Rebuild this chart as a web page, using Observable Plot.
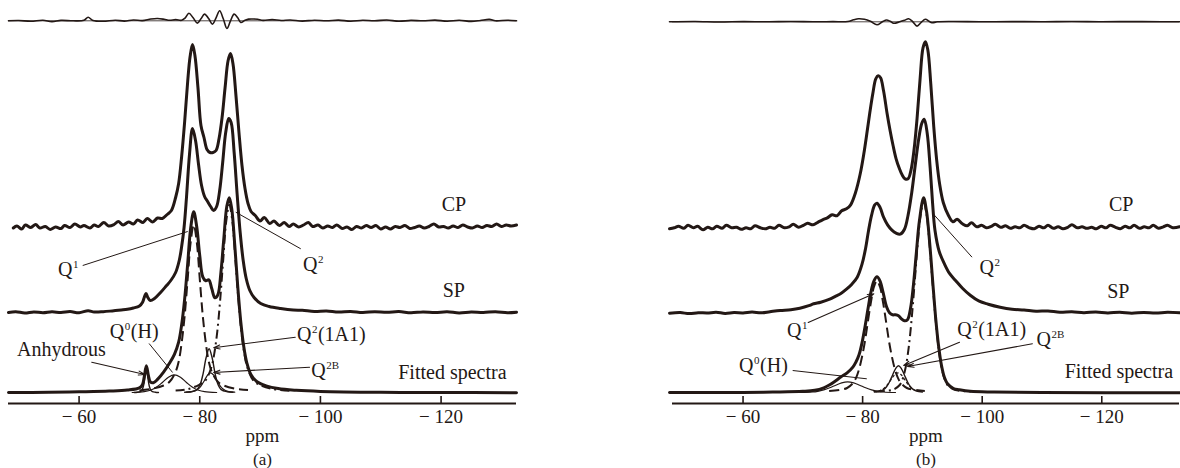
<!DOCTYPE html>
<html><head><meta charset="utf-8">
<script src="https://cdn.jsdelivr.net/npm/d3@7"></script>
<script src="https://cdn.jsdelivr.net/npm/@observablehq/plot@0.6"></script>
<style>
html,body{margin:0;padding:0;background:#fff;}
#wrap{position:relative;width:1180px;height:468px;overflow:hidden;background:#fff;}
#pa{position:absolute;left:0;top:0;}
#pb{position:absolute;left:600px;top:0;}
</style></head><body><div id="wrap"><div id="pa"></div><div id="pb"></div></div>
<script>
// ===== DATA (ppm, intensity) =====
const ticks = [-60, -80, -100, -120];

// ---- panel (a) ----
const a_res = [[-48.3,0],[-50,0.3],[-52,-0.5],[-54,0.5],[-55.5,-0.8],[-57,0.4],[-59,0],[-60.8,0.5],[-61.5,3.5],[-62.3,0.3],[-64,-0.5],[-66,0.6],[-67.5,-0.3],[-69,0.8],[-70.5,0.2],[-71.9,1.8],[-73,2.3],[-74.1,1.5],[-75,0.5],[-76,1.2],[-77,0.5],[-77.6,3],[-78.2,7.5],[-78.9,3],[-79.6,-2.3],[-80.2,2],[-80.8,6.7],[-81.5,2],[-82.1,-3.3],[-82.7,3],[-83.3,10],[-83.9,2],[-84.5,-7.7],[-85.1,0],[-85.7,6.7],[-86.3,3],[-86.8,-1.7],[-87.5,0.5],[-88.1,1.7],[-89,1.8],[-89.6,1.5],[-90.5,0.4],[-92,1.2],[-93.5,0.3],[-95,0.8],[-97,-0.3],[-99,0.6],[-101,0],[-103,0.7],[-105,-0.4],[-107,0.5],[-109,0],[-111,0.8],[-113,-0.5],[-115,0.4],[-117,0],[-119,0.7],[-121,-0.4],[-123,0.5],[-125,-0.6],[-126.5,0.3],[-128,1.5],[-129,0],[-131,0.6],[-132.5,0]];
const a_cp = [[-49.1,-0.5],[-49.7,1.5],[-50.5,-1.5],[-51.1,2.5],[-52,0],[-52.8,3],[-53.5,-0.5],[-54.4,1],[-55.2,-2],[-56.1,0.5],[-57,-1],[-57.6,2],[-58.5,0],[-59.3,3.5],[-60.2,0.5],[-60.8,2],[-61.8,-0.5],[-62.5,2.5],[-63.2,1],[-64.1,5],[-64.9,1.5],[-65.8,3],[-66.5,6],[-67.3,2.5],[-68.2,5.5],[-69,3.5],[-69.7,7.5],[-70.6,5],[-71.3,9],[-72.2,5.5],[-73,9.5],[-73.8,9],[-74.6,13],[-75.3,17],[-76,30],[-76.5,44],[-77,71],[-77.5,106],[-78,146],[-78.4,171],[-78.8,183],[-79.2,172],[-79.7,140],[-80.2,102],[-80.7,90],[-81.2,78],[-81.7,75],[-82.2,75],[-82.7,77],[-83.2,89],[-83.7,110],[-84.2,140],[-84.7,167],[-85.1,174],[-85.5,164],[-86,132],[-86.5,95],[-87,62],[-87.5,39],[-88,24],[-88.5,16],[-89.2,12],[-90,6.5],[-90.7,10],[-91.6,4],[-92.3,6.5],[-93.2,2],[-94,5],[-94.8,1],[-95.5,3.5],[-96.4,0.5],[-97.2,2.5],[-98,5],[-98.7,1],[-99.6,2.5],[-100.4,-0.5],[-101.2,1.5],[-102,0],[-102.7,2.5],[-103.6,-1],[-104.4,0.5],[-105.2,-2],[-106,1],[-106.8,-0.5],[-107.6,2],[-108.4,0],[-109.2,2],[-110,-1.5],[-110.8,0.5],[-111.6,-1.5],[-112.4,1],[-113.2,0],[-114,2],[-114.8,-1],[-115.6,0],[-116.4,1.5],[-117.2,-0.5],[-118,1],[-118.8,3.5],[-119.6,0.5],[-120.4,1],[-121.2,-0.5],[-122,1.5],[-122.8,0],[-123.6,2.5],[-124.4,0.5],[-125.2,-0.5],[-126,1.5],[-126.8,0],[-127.6,2],[-128.4,1],[-129.2,3.5],[-130,1],[-130.8,2.5],[-131.6,1.5],[-132.5,2.5]];
const a_sp = [[-48.3,0],[-49.5,0.8],[-51,-0.5],[-52.5,0.6],[-54,-0.3],[-55.5,0.7],[-57,0],[-58.5,0.9],[-60,-0.2],[-61.5,1.8],[-62.5,0.5],[-64,0.8],[-65.5,1.6],[-67,2.5],[-68,3.2],[-69,4.5],[-70,6.5],[-70.5,10],[-70.8,15],[-71.1,19],[-71.4,15],[-71.8,12],[-72.5,14],[-73.5,20],[-74.5,27],[-75.2,32],[-76,40],[-76.6,52],[-77,66],[-77.4,85],[-77.8,115],[-78.3,158],[-78.8,184],[-79.3,172],[-79.8,148],[-80.3,127],[-80.8,116],[-81.3,111],[-81.8,106],[-82.3,102],[-82.8,106],[-83.3,122],[-83.8,150],[-84.3,180],[-84.8,194],[-85.2,190],[-85.7,160],[-86.2,118],[-86.7,80],[-87.2,52],[-87.7,34],[-88.3,22],[-89,15],[-90.1,9],[-91.5,6],[-93.4,4],[-95.5,2.5],[-97,2.2],[-99,1],[-101,1.5],[-103,0.4],[-105,1.1],[-107,0],[-109,0.8],[-111,0.2],[-113,0.9],[-115,-0.3],[-117,0.6],[-119,0],[-121,0.7],[-123,-0.4],[-125,0.5],[-127,0],[-129,0.8],[-131,-0.2],[-132.5,0.3]];
const a_fit = [[-48.3,0.2],[-55,0.5],[-60,1],[-65,1.7],[-68,2.7],[-70,4.9],[-70.5,8],[-70.8,16],[-71.15,27],[-71.5,17],[-71.8,11],[-72.3,10],[-73,13.4],[-74,20.7],[-75,29.8],[-75.8,38.5],[-76.5,50.7],[-77,68],[-77.5,94],[-78,129],[-78.5,165],[-79,181],[-79.5,166],[-80,137],[-80.5,116],[-81,112],[-81.5,113],[-82,104],[-82.5,95],[-83,98],[-83.5,120],[-84,155],[-84.5,187],[-84.9,195],[-85.3,184],[-85.8,148],[-86.3,106],[-86.8,71],[-87.3,46],[-87.8,30],[-88.5,18],[-89.5,11],[-91,7],[-93,4.2],[-96,2.5],[-100,1.4],[-110,0.5],[-120,0.3],[-132.5,0.15]];
const a_q1 = [[-70,2.4],[-72,3.9],[-74,7.3],[-75,11],[-76,21],[-76.5,31],[-77,50],[-77.5,77],[-78,114],[-78.5,151],[-79,168],[-79.5,151],[-80,114],[-80.5,77],[-81,50],[-81.5,31],[-82,21],[-83,11],[-84,7.3],[-86,4],[-88,2.8]];
const a_q2 = [[-76,2.2],[-78,3.6],[-79.9,8],[-80.9,12],[-81.9,25],[-82.4,39],[-82.9,61],[-83.4,94],[-83.9,134],[-84.4,172],[-84.9,188],[-85.4,172],[-85.9,134],[-86.4,94],[-86.9,61],[-87.4,39],[-87.9,25],[-88.9,12],[-89.9,8],[-92,4],[-95,2]];
const a_q2_1a1 = [[-77.5,0.6],[-78.5,1.1],[-79.55,3.2],[-80.05,8],[-80.55,19],[-81.05,35],[-81.55,44],[-82.05,35],[-82.55,19],[-83.05,8],[-83.55,3.2],[-84.55,1.1],[-85.5,0.6]];
const a_q2b = [[-77.8,0.6],[-78.8,1.1],[-79.8,4],[-80.3,7.6],[-80.8,12.6],[-81.3,17.7],[-81.8,20],[-82.3,17.7],[-82.8,12.6],[-83.3,7.6],[-83.8,4],[-84.8,1.1],[-85.8,0.6]];
const a_q0 = [[-68.8,0.3],[-70.8,1.1],[-71.8,2.5],[-72.8,5.5],[-73.8,10.3],[-74.8,15.6],[-75.8,18],[-76.8,15.6],[-77.8,10.3],[-78.8,5.5],[-79.8,2.5],[-80.8,1.1],[-82.8,0.3]];
const a_anh = [[-69.15,0.3],[-69.65,0.6],[-70.15,1.2],[-70.4,2.4],[-70.65,6.3],[-70.8,11],[-70.95,17],[-71.15,22],[-71.35,17],[-71.5,11],[-71.65,6.3],[-71.9,2.4],[-72.15,1.2],[-72.65,0.6],[-73.15,0.3]];

// ---- panel (b) ----
const b_res = [[-47.7,0],[-52,0.3],[-56,-0.2],[-60,0.2],[-64,0],[-68,0.3],[-72,0],[-75,0.2],[-77.5,0.3],[-78.5,2],[-79.3,3],[-80.3,2.5],[-81.3,0.5],[-82.4,-3],[-83.3,0],[-84,1.8],[-84.6,0.5],[-85.2,-1.5],[-86.2,0],[-87,1.5],[-87.7,3],[-88.4,0],[-89.1,-4.3],[-89.8,-0.5],[-90.5,2.5],[-91.1,0.5],[-91.6,-1],[-92.5,0],[-95,0.3],[-100,0],[-105,0.2],[-110,0],[-115,0.3],[-120,0],[-125,0.2],[-130,0],[-133,0]];
const b_cp = [[-47.7,0],[-48.5,1],[-49.2,2.5],[-50.1,0.5],[-50.8,3.5],[-51.7,1],[-52.4,2.5],[-53.3,-1],[-54.1,1.5],[-54.9,0],[-55.6,2.5],[-56.5,0.5],[-57.2,3.5],[-58.1,1],[-58.9,1.5],[-59.7,-0.5],[-60.5,1],[-61.3,0],[-62,3],[-62.9,1],[-63.7,0],[-64.5,1.5],[-65.3,0.5],[-66,3.5],[-66.9,1],[-67.7,2],[-68.4,4.5],[-69.3,1.5],[-70.1,3.5],[-70.8,5.5],[-71.7,4],[-72.5,6.5],[-73.3,9],[-74.1,11],[-74.9,14],[-75.7,13],[-76.5,18],[-77.3,20],[-78,24],[-78.8,36],[-79.6,55],[-80.2,75],[-80.7,95],[-81.2,116],[-81.7,135],[-82.2,150],[-82.6,153],[-83,151],[-83.5,138],[-84.1,115],[-84.6,98],[-85.1,83],[-85.6,70],[-86.1,61],[-86.6,54],[-87.1,50],[-87.6,50],[-88.1,59],[-88.6,79],[-89.1,110],[-89.6,149],[-90.1,181],[-90.5,187],[-90.9,179],[-91.4,145],[-91.9,102],[-92.4,68],[-92.9,44],[-93.5,26],[-94.3,14],[-95.1,7],[-95.8,9.5],[-96.7,5],[-97.5,3],[-98.2,6],[-99.1,2],[-99.9,3.5],[-100.7,1],[-101.5,2.5],[-102.2,4.5],[-103.1,1.5],[-103.9,3],[-104.7,0.5],[-105.5,2],[-106.3,1],[-107,3.5],[-107.9,1],[-108.7,0],[-109.5,2.5],[-110.3,1],[-111,3.5],[-111.9,0.5],[-112.7,2],[-113.5,0],[-114.3,1.5],[-115,4],[-115.9,1],[-116.7,2],[-117.5,0.5],[-118.3,1.5],[-119.1,0],[-119.9,2.5],[-120.7,1],[-121.4,3.5],[-122.3,1.5],[-123.1,0],[-123.9,2.5],[-124.7,1],[-125.4,3.5],[-126.3,0.5],[-127.1,2],[-127.9,1],[-128.6,3.5],[-129.5,0.5],[-130.3,2],[-131,3.5],[-131.9,1],[-133,2]];
const b_sp = [[-47.7,0],[-49.5,0.6],[-51,-0.4],[-52.5,0.5],[-54,0.2],[-55.5,0.9],[-57,-0.2],[-58.5,0.6],[-60,0.3],[-61.5,1.2],[-63,0.4],[-64.5,1.5],[-66.2,2.7],[-68,3.5],[-69.5,5],[-71,7.5],[-71.8,9.4],[-73,11],[-74.5,14],[-75.5,17],[-76.3,19.4],[-77.3,24],[-78.2,29],[-79.1,36],[-79.9,49],[-80.5,65],[-81,83],[-81.5,98],[-82,108],[-82.4,110],[-82.9,106],[-83.5,96],[-84.2,88],[-84.9,83],[-85.6,80],[-86.3,79],[-87,84],[-87.6,98],[-88.2,120],[-88.8,148],[-89.4,175],[-89.9,190],[-90.3,194],[-90.8,180],[-91.3,145],[-91.7,110],[-92.1,83],[-92.8,62],[-93.7,49],[-94.5,40],[-95.5,33],[-96.7,25],[-98,18],[-99.5,12],[-101,9],[-103,6],[-105,4],[-107,3.2],[-109,2],[-111,2.2],[-113,1],[-115,1.5],[-117,0.5],[-119,1.2],[-121,0.3],[-123,1],[-125,0],[-127,0.8],[-129,0.2],[-131,0.9],[-133,0.4]];
const b_fit = [[-47.7,0.2],[-60,0.4],[-65,0.8],[-70,1.5],[-72,2.5],[-73.5,5],[-74.5,8],[-75.5,12],[-76.4,16],[-77.4,20],[-78.4,26],[-78.9,31],[-79.4,38],[-79.9,50],[-80.4,66],[-80.9,84],[-81.4,101],[-81.9,112],[-82.4,116],[-82.9,112],[-83.4,101],[-84,86],[-84.5,80],[-85,78],[-85.5,78],[-86,77],[-86.5,74],[-87,72],[-87.5,73],[-88,84],[-88.5,108],[-89,141],[-89.5,172],[-90.2,195],[-90.7,181],[-91.2,151],[-91.7,113],[-92.2,76],[-92.7,47],[-93.2,27],[-93.7,15],[-94.2,9],[-95.2,4.3],[-96.2,3],[-98,1.5],[-102,0.8],[-110,0.3],[-133,0.1]];
const b_q1 = [[-74.4,1.8],[-76.4,3.2],[-77.4,4.8],[-78.4,9.7],[-78.9,15],[-79.4,23.5],[-79.9,36],[-80.4,52],[-80.9,72],[-81.4,91],[-81.9,106],[-82.4,112],[-82.9,106],[-83.4,91],[-83.9,72],[-84.4,52],[-84.9,36],[-85.4,23.5],[-85.9,15],[-86.4,9.7],[-87.4,4.8],[-88.4,3.2],[-90.4,1.8]];
const b_q2 = [[-82.2,1.2],[-84.2,2.1],[-85.2,3.4],[-86.2,7.8],[-86.7,14],[-87.2,25.6],[-87.7,45],[-88.2,74],[-88.7,110],[-89.2,148],[-89.7,178],[-90.2,190],[-90.7,178],[-91.2,148],[-91.7,110],[-92.2,74],[-92.7,45],[-93.2,25.6],[-93.7,14],[-94.2,7.8],[-95.2,3.4],[-96.2,2.1],[-98.2,1.2]];
const b_q2_1a1 = [[-82,0.8],[-83,1.8],[-83.5,3.2],[-84,6],[-84.5,11],[-85,17.6],[-85.5,24],[-86,27],[-86.5,24],[-87,17.6],[-87.5,11],[-88,6],[-88.5,3.2],[-89,1.8],[-90,0.8]];
const b_q2b = [[-81.9,1.1],[-82.9,2.3],[-83.4,3.9],[-83.9,6.4],[-84.4,10],[-84.9,14.4],[-85.4,18.3],[-85.9,20],[-86.4,18.3],[-86.9,14.4],[-87.4,10],[-87.9,6.4],[-88.4,3.9],[-88.9,2.3],[-89.9,1.1]];
const b_q0 = [[-69.5,0.3],[-71.5,0.8],[-72.5,1.5],[-73.5,2.9],[-74.5,5],[-75.5,7.6],[-76.5,10],[-77.5,11],[-78.5,10],[-79.5,7.6],[-80.5,5],[-81.5,2.9],[-82.5,1.5],[-83.5,0.8],[-85.5,0.3]];

// ===== ANNOTATIONS (in data coordinates) =====
const labelsA = [
  {x:-120.1, y:182.3, t:"CP"}, {x:-120.27, y:95.6, t:"SP"}, {x:-112.9, y:14, t:"Fitted spectra"},
  {x:-49.7, y:37.3, t:"Anhydrous"},
  {x:-56.5, y:117.3, t:"Q", s:"1"}, {x:-97.1, y:122.3, t:"Q", s:"2"},
  {x:-65.1, y:55, t:"Q", s:"0", r:"(H)"}, {x:-96.1, y:52.3, t:"Q", s:"2", r:"(1A1)"},
  {x:-98.5, y:15.6, t:"Q", s:"2B"}
];
const linksA = [
  {x1:-60.6, y1:127.3, x2:-78.0, y2:161.3},
  {x1:-85.97, y1:180.6, x2:-96.74, y2:144},
  {x1:-71.6, y1:49.3, x2:-75.5, y2:20.3}
];
const arrowsA = [
  {x1:-62.1, y1:30.6, x2:-70.9, y2:18.3},
  {x1:-95.84, y1:55.6, x2:-82.3, y2:45},
  {x1:-98.2, y1:25.6, x2:-82.3, y2:20.3}
];
const labelsB = [
  {x:-121.2, y:182.3, t:"CP"}, {x:-120.9, y:95.3, t:"SP"}, {x:-113.8, y:15.3, t:"Fitted spectra"},
  {x:-99.55, y:119, t:"Q", s:"2"}, {x:-67.37, y:56.3, t:"Q", s:"1"},
  {x:-95.84, y:57.3, t:"Q", s:"2", r:"(1A1)"}, {x:-109.1, y:47.3, t:"Q", s:"2B"},
  {x:-59.33, y:20.6, t:"Q", s:"0", r:"(H)"}
];
const linksB = [
  {x1:-91.8, y1:179, x2:-98.3, y2:135.6},
  {x1:-68.3, y1:22.3, x2:-80.7, y2:14}
];
const arrowsB = [
  {x1:-70.9, y1:70.3, x2:-81.87, y2:99},
  {x1:-96.2, y1:50.6, x2:-86.87, y2:27.3},
  {x1:-108.4, y1:49, x2:-87.5, y2:26.3}
];

// ===== DRAWING =====
const FONT = "'Liberation Serif','Times New Roman',serif";
const INK = "#231815";
const AXIS_Y = -10.7;

function drawPanel(el, P) {
  const L = (arr, off) => arr.map(([x, v]) => ({x, y: v + off}));
  const line = (arr, off, opts) => Plot.line(L(arr, off), {x: "x", y: "y", curve: "catmull-rom", stroke: INK, strokeLinejoin: "round", strokeLinecap: "round", ...opts});
  const mid = (P.domain[0] + P.domain[1]) / 2;
  const txt = {fontFamily: FONT, fill: INK, lineAnchor: "bottom"};
  const marks = [
    Plot.ruleY([P.off.res], {stroke: INK, strokeWidth: 0.8}),
    line(P.res, P.off.res, {strokeWidth: 1.6}),
    line(P.cp, P.off.cp, {strokeWidth: 3}),
    line(P.sp, P.off.sp, {strokeWidth: 3}),
    ...P.comps.map(c => line(c.data, 0, c.style)),
    line(P.fit, 0, {strokeWidth: 3}),
    Plot.ruleY([AXIS_Y], {stroke: INK, strokeWidth: 2}),
    Plot.ruleX(ticks, {y1: AXIS_Y, y2: AXIS_Y + 7, stroke: INK, strokeWidth: 1.6}),
    Plot.text(ticks, {x: d => d, y: AXIS_Y, text: d => "\u2212 " + Math.abs(d), dy: 19, fontSize: 19, ...txt}),
    Plot.text(["ppm"], {x: () => mid, y: () => AXIS_Y, text: d => d, dy: 38, fontSize: 19, ...txt}),
    Plot.text([P.caption], {x: () => mid, y: () => AXIS_Y, text: d => d, dy: 61.3, fontSize: 17, ...txt}),
    Plot.text(P.labels, {x: "x", y: "y", text: "t", textAnchor: "start", fontSize: 20, ...txt}),
    Plot.text(P.labels.filter(d => d.s), {x: "x", y: "y", text: "s", textAnchor: "start", fontSize: 11, dx: 15, dy: -8, ...txt}),
    Plot.text(P.labels.filter(d => d.r), {x: "x", y: "y", text: "r", textAnchor: "start", fontSize: 20, dx: 15 + 6, ...txt}),
    Plot.link(P.links, {x1: "x1", y1: "y1", x2: "x2", y2: "y2", stroke: INK, strokeWidth: 1}),
    Plot.arrow(P.arrows, {x1: "x1", y1: "y1", x2: "x2", y2: "y2", stroke: INK, strokeWidth: 1.1, headLength: 9, headAngle: 35})
  ];
  const chart = Plot.plot({
    width: P.width, height: 468,
    marginLeft: P.ml, marginRight: P.mr, marginTop: 10, marginBottom: 65,
    x: {domain: P.domain, axis: null},
    y: {domain: [AXIS_Y, 382.3], axis: null},
    style: {fontFamily: FONT, background: "#fff", overflow: "visible"},
    marks
  });
  el.appendChild(chart);
}

const dashed = {strokeWidth: 2, strokeDasharray: "10,5", strokeLinecap: "butt"};
const dashDot = {strokeWidth: 2, strokeDasharray: "9,4,2,4", strokeLinecap: "butt"};

drawPanel(document.getElementById("pa"), {
  width: 560, ml: 8, mr: 44, domain: [-48.3, -132.5], caption: "(a)",
  off: {res: 372, cp: 165.3, sp: 80.3},
  res: a_res, cp: a_cp, sp: a_sp, fit: a_fit,
  comps: [
    {data: a_q0, style: {strokeWidth: 1.2}},
    {data: a_anh, style: {strokeWidth: 1.4}},
    {data: a_q2b, style: {strokeWidth: 1.2}},
    {data: a_q2_1a1, style: {strokeWidth: 1.4}},
    {data: a_q1, style: dashed},
    {data: a_q2, style: dashDot}
  ],
  labels: labelsA, links: linksA, arrows: arrowsA
});
drawPanel(document.getElementById("pb"), {
  width: 580, ml: 72, mr: 1, domain: [-48.2, -133], caption: "(b)",
  off: {res: 371, cp: 164, sp: 79.6},
  res: b_res, cp: b_cp, sp: b_sp, fit: b_fit,
  comps: [
    {data: b_q0, style: {strokeWidth: 1.2}},
    {data: b_q2b, style: {strokeWidth: 1.2, strokeDasharray: "2,3"}},
    {data: b_q2_1a1, style: {strokeWidth: 1.4}},
    {data: b_q1, style: dashed},
    {data: b_q2, style: dashDot}
  ],
  labels: labelsB, links: linksB, arrows: arrowsB
});
</script></body></html>
